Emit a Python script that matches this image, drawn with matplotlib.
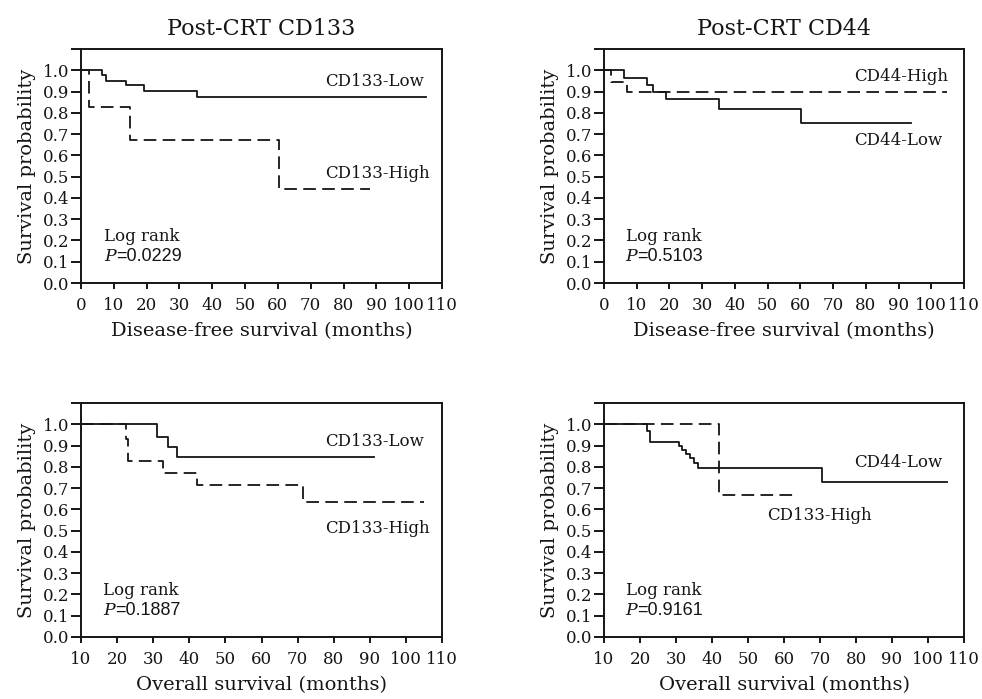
import matplotlib
matplotlib.use("Agg")
import matplotlib.pyplot as plt

plt.rcParams['font.family'] = ['DejaVu Serif']
plt.rcParams['mathtext.fontset'] = 'dejavuserif'

# Disease-free survival, CD133
dfs133_low_t = [0, 6.3, 7.6, 13.7, 19.2, 35.3, 105.2]
dfs133_low_s = [1.0, 0.98, 0.95, 0.93, 0.903, 0.875, 0.875]
dfs133_high_t = [0, 2.5, 15.0, 60.2, 88.0]
dfs133_high_s = [1.0, 0.829, 0.67, 0.44, 0.44]

# Disease-free survival, CD44
dfs44_high_t = [0, 2.0, 6.9, 104.9]
dfs44_high_s = [1.0, 0.944, 0.897, 0.897]
dfs44_low_t = [0, 6.1, 13.2, 15.0, 19.0, 35.1, 60.1, 93.9]
dfs44_low_s = [1.0, 0.964, 0.933, 0.897, 0.863, 0.816, 0.75, 0.75]

# Overall survival, CD133
os133_low_t = [10, 31.0, 34.2, 36.5, 91.2]
os133_low_s = [1.0, 0.94, 0.894, 0.847, 0.847]
os133_high_t = [10, 22.4, 22.9, 32.8, 42.1, 71.5, 104.9]
os133_high_s = [1.0, 0.933, 0.827, 0.769, 0.713, 0.633, 0.633]

# Overall survival, CD44
os44_low_t = [10, 22.0, 22.8, 30.8, 31.7, 32.7, 34.0, 35.0, 36.1, 70.6, 105.2]
os44_low_s = [1.0, 0.97, 0.917, 0.898, 0.88, 0.86, 0.84, 0.82, 0.795, 0.728, 0.728]
os44_high_t = [10, 41.8, 63.5]
os44_high_s = [1.0, 0.666, 0.666]

p_values = ['0.0229', '0.5103', '0.1887', '0.9161']
titles = ['Post-CRT CD133', 'Post-CRT CD44', '', '']
xlabels = ['Disease-free survival (months)', 'Disease-free survival (months)',
           'Overall survival (months)', 'Overall survival (months)']

yticks = [i / 10 for i in range(12)]
ytick_labels = ['%.1f' % v for v in yticks[:-1]] + ['']

ink = '#151515'
dash = (0, (7, 3.5))

fig = plt.figure(figsize=(9.82, 6.99), dpi=100)
pos = [[0.0825, 0.5951, 0.3676, 0.3348],
       [0.6151, 0.5951, 0.3666, 0.3348],
       [0.0825, 0.0887, 0.3676, 0.3348],
       [0.6151, 0.0887, 0.3666, 0.3348]]
axes = [fig.add_axes(p) for p in pos]


def style_axis(ax, xmin, idx):
    ax.set_xlim(xmin, 110)
    ax.set_ylim(0, 1.1)
    ax.set_xticks(list(range(xmin, 111, 10)))
    ax.set_yticks(yticks)
    ax.set_yticklabels(ytick_labels)
    for s in ax.spines.values():
        s.set_linewidth(1.4)
        s.set_color(ink)
    ax.tick_params(axis='y', direction='out', length=7, width=1.4,
                   labelsize=12, pad=1.5, colors=ink)
    ax.tick_params(axis='x', direction='out', length=4, width=1.4,
                   labelsize=12, pad=6, colors=ink)
    ax.set_ylabel('Survival probability', fontsize=14, color=ink, labelpad=5)
    ax.set_xlabel(xlabels[idx], fontsize=14, color=ink, labelpad=6)
    if titles[idx]:
        ax.set_title(titles[idx], fontsize=16, color=ink, pad=10)


def log_rank(ax, x, y, p):
    ax.text(x, y, 'Log rank', fontsize=12, color=ink, va='center')
    pt = ax.text(x, y - 0.095, 'P', fontsize=12.5, color=ink, va='center',
                 style='italic')
    ax.annotate('=' + p, xy=(1, 0), xycoords=pt, xytext=(0, 0),
                textcoords='offset points', fontsize=13, color=ink,
                va='bottom', family='Liberation Sans')


kw = dict(where='post', color=ink, lw=1.3)

ax = axes[0]
style_axis(ax, 0, 0)
ax.step(dfs133_low_t, dfs133_low_s, **kw)
ax.step(dfs133_high_t, dfs133_high_s, linestyle=dash, **kw)
ax.text(74.4, 0.948, 'CD133-Low', fontsize=12, color=ink, va='center')
ax.text(74.4, 0.517, 'CD133-High', fontsize=12, color=ink, va='center')
log_rank(ax, 7.1, 0.22, p_values[0])

ax = axes[1]
style_axis(ax, 0, 1)
ax.step(dfs44_low_t, dfs44_low_s, **kw)
ax.step(dfs44_high_t, dfs44_high_s, linestyle=dash, **kw)
ax.text(76.4, 0.972, 'CD44-High', fontsize=12, color=ink, va='center')
ax.text(76.4, 0.672, 'CD44-Low', fontsize=12, color=ink, va='center')
log_rank(ax, 6.6, 0.22, p_values[1])

ax = axes[2]
style_axis(ax, 10, 2)
ax.step(os133_low_t, os133_low_s, **kw)
ax.step(os133_high_t, os133_high_s, linestyle=dash, **kw)
ax.text(77.7, 0.917, 'CD133-Low', fontsize=12, color=ink, va='center')
ax.text(77.7, 0.511, 'CD133-High', fontsize=12, color=ink, va='center')
log_rank(ax, 16.2, 0.219, p_values[2])

ax = axes[3]
style_axis(ax, 10, 3)
ax.step(os44_low_t, os44_low_s, **kw)
ax.step(os44_high_t, os44_high_s, linestyle=dash, **kw)
ax.text(79.4, 0.819, 'CD44-Low', fontsize=12, color=ink, va='center')
ax.text(55.4, 0.569, 'CD133-High', fontsize=12, color=ink, va='center')
log_rank(ax, 16.0, 0.219, p_values[3])

fig.savefig('out.png', dpi=100)
